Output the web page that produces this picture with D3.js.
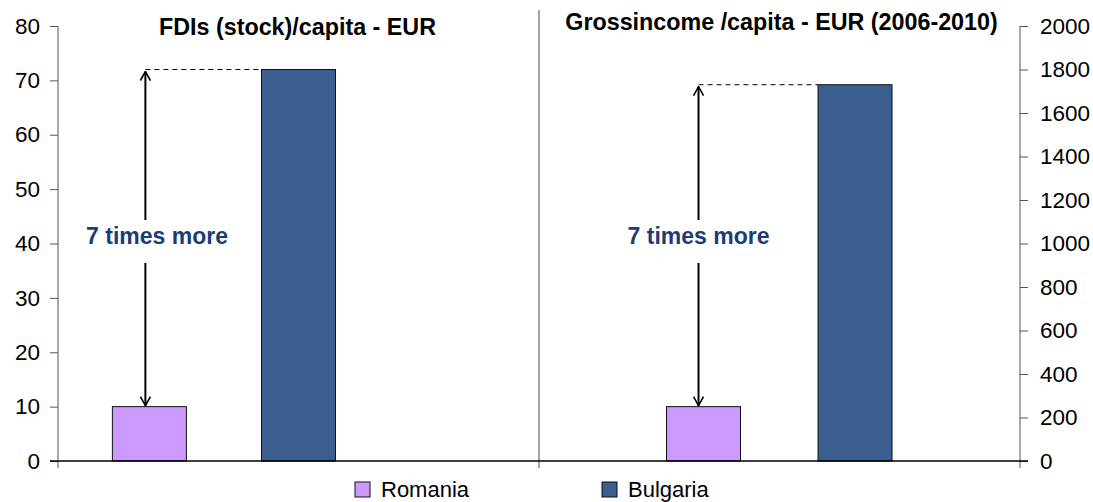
<!DOCTYPE html>
<html>
<head>
<meta charset="utf-8">
<script src="https://cdn.jsdelivr.net/npm/d3@7/dist/d3.min.js"></script>
<style>
  html, body { margin: 0; padding: 0; background: #fff; }
  svg { display: block; font-family: "Liberation Sans", Arial, sans-serif; }
</style>
</head>
<body>
<svg id="chart" width="1093" height="502"></svg>
<script>
// Panels (one per indicator) and the two countries compared in each
const panels = ["FDIs (stock)/capita - EUR", "Grossincome /capita - EUR (2006-2010)"];
const countries = ["Romania", "Bulgaria"];
const fdiValues = [10, 72];          // left axis, EUR per capita
const incomeValues = [250, 1730];    // right axis, EUR per capita
const leftTicks = [0, 10, 20, 30, 40, 50, 60, 70, 80];
const rightTicks = [0, 200, 400, 600, 800, 1000, 1200, 1400, 1600, 1800, 2000];
const annotation = "7 times more";

const colors = { Romania: "#CC99FF", Bulgaria: "#3A5F8F" };

const svg = d3.select("#chart");
const plot = { left: 58, right: 1020, top: 26, bottom: 461 };

const yLeft = d3.scaleLinear().domain([0, 80]).range([plot.bottom, plot.top]);
const yRight = d3.scaleLinear().domain([0, 2000]).range([plot.bottom, plot.top]);

// Each indicator gets half of the plot width
const xPanel = d3.scaleBand().domain(panels).range([plot.left, plot.right]).padding(0);
const pw = xPanel.bandwidth();

// Bar centre positions within each panel (fraction of panel width)
const slot = [[0.190, 0.500], [0.342, 0.657]];
const barWidth = 74;

const series = [
  { panel: panels[0], values: fdiValues, y: yLeft, slots: slot[0], titleY: 35, titleDx: -1 },
  { panel: panels[1], values: incomeValues, y: yRight, slots: slot[1], titleY: 30, titleDx: 2 }
];

// Divider between the two panels
const midX = xPanel(panels[1]);
svg.append("line")
  .attr("x1", midX).attr("x2", midX)
  .attr("y1", 10).attr("y2", plot.bottom + 7)
  .attr("stroke", "#444").attr("stroke-width", 1);

// Bars
series.forEach(s => {
  const x0 = xPanel(s.panel);
  const xIn = d3.scaleLinear().domain([0, 1]).range([x0, x0 + pw]);
  countries.forEach((c, i) => {
    const cx = xIn(s.slots[i]);
    svg.append("rect")
      .attr("x", cx - barWidth / 2)
      .attr("y", s.y(s.values[i]))
      .attr("width", barWidth)
      .attr("height", s.y(0) - s.y(s.values[i]))
      .attr("fill", colors[c])
      .attr("stroke", "#111").attr("stroke-width", 1);
  });
});

// Axes
const axLeft = svg.append("g")
  .attr("transform", `translate(${plot.left},0)`)
  .call(d3.axisLeft(yLeft).tickValues(leftTicks).tickFormat(d3.format("d"))
    .tickSize(8).tickPadding(10));
const axRight = svg.append("g")
  .attr("transform", `translate(${plot.right},0)`)
  .call(d3.axisRight(yRight).tickValues(rightTicks).tickFormat(d3.format("d"))
    .tickSize(8).tickPadding(12));
[axLeft, axRight].forEach(ax => {
  ax.selectAll(".tick line").attr("stroke", "#555");
  ax.selectAll(".tick text")
    .attr("fill", "#000")
    .style("font-family", "'Liberation Sans', Arial, sans-serif")
    .style("font-size", "22.5px");
});
svg.selectAll(".domain").remove();
// vertical axis lines extend a little under the baseline
[plot.left, plot.right].forEach(x => {
  svg.append("line")
    .attr("x1", x).attr("x2", x)
    .attr("y1", plot.top).attr("y2", plot.bottom + 7)
    .attr("stroke", "#555").attr("stroke-width", 1);
});

// Baseline
svg.append("line")
  .attr("x1", plot.left - 8).attr("x2", plot.right + 8)
  .attr("y1", plot.bottom).attr("y2", plot.bottom)
  .attr("stroke", "#000").attr("stroke-width", 1.5);

// Titles
series.forEach(s => {
  svg.append("text")
    .attr("x", xPanel(s.panel) + pw / 2 + s.titleDx)
    .attr("y", s.titleY)
    .attr("text-anchor", "middle")
    .attr("font-weight", "bold")
    .attr("font-size", 23.3)
    .attr("fill", "#000")
    .text(s.panel);
});

// Arrow markers
const defs = svg.append("defs");
["up", "down"].forEach(dir => {
  defs.append("marker")
    .attr("id", "head-" + dir)
    .attr("viewBox", "-6 -1 12 12")
    .attr("refX", 0).attr("refY", 0)
    .attr("markerWidth", 12).attr("markerHeight", 12)
    .attr("markerUnits", "userSpaceOnUse")
    .attr("orient", dir === "up" ? 0 : 180)
    .append("path")
    .attr("d", "M-5,9 L0,0 L5,9")
    .attr("fill", "none").attr("stroke", "#000").attr("stroke-width", 1.6);
});

// Ratio annotations: dashed level line + double arrow with label
series.forEach((s, k) => {
  const x0 = xPanel(s.panel);
  const xIn = d3.scaleLinear().domain([0, 1]).range([x0, x0 + pw]);
  const ax = k === 0 ? xIn(s.slots[0]) - 4 : xIn(s.slots[0]) - 5;
  const yTop = s.y(s.values[1]);
  const yBot = s.y(s.values[0]);
  const bulgLeft = xIn(s.slots[1]) - barWidth / 2;
  const labelY = 244;

  svg.append("line")
    .attr("x1", ax).attr("x2", bulgLeft)
    .attr("y1", yTop).attr("y2", yTop)
    .attr("stroke", "#000").attr("stroke-width", 1)
    .attr("stroke-dasharray", "5,4");

  svg.append("line")
    .attr("x1", ax).attr("x2", ax)
    .attr("y1", 220).attr("y2", yTop + 2)
    .attr("stroke", "#000").attr("stroke-width", 2)
    .attr("marker-end", "url(#head-up)");
  svg.append("line")
    .attr("x1", ax).attr("x2", ax)
    .attr("y1", 263).attr("y2", yBot - 1)
    .attr("stroke", "#000").attr("stroke-width", 2)
    .attr("marker-end", "url(#head-down)");

  svg.append("text")
    .attr("x", k === 0 ? 157 : ax)
    .attr("y", labelY)
    .attr("text-anchor", "middle")
    .attr("font-weight", "bold")
    .attr("font-size", 23)
    .attr("fill", "#1B3C78")
    .text(annotation);
});

// Legend
const legendX = [355, 602];
countries.forEach((c, i) => {
  const g = svg.append("g").attr("transform", `translate(${legendX[i]},482)`);
  g.append("rect")
    .attr("width", 15).attr("height", 15)
    .attr("fill", colors[c]).attr("stroke", "#111").attr("stroke-width", 1);
  g.append("text")
    .attr("x", 26).attr("y", 15)
    .attr("font-size", 22).attr("fill", "#000")
    .text(c);
});
</script>
</body>
</html>
